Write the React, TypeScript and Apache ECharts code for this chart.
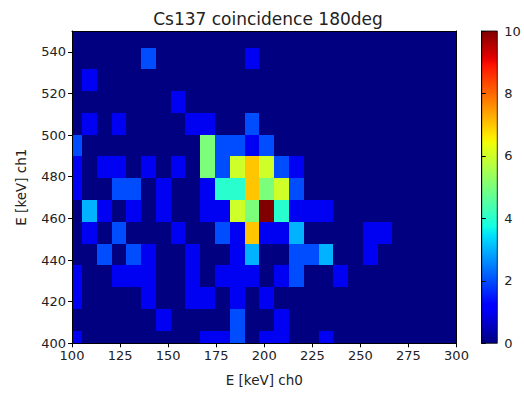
import React, { useEffect, useRef } from "react";
import * as echarts from "echarts";

// Histogram bins (keV)
const xBinStart = 97.5;
const xBinWidth = 7.69;
const yBinStart = 395.6;
const yBinWidth = 10.46;

// Counts per bin, rows listed from top (highest ch1) to bottom (lowest ch1)
const countsTopToBottom: number[][] = [
  [0,0,0,0,0,0,0,0,0,0,0,0,0,0,0,0,0,0,0,0,0,0,0,0,0,0,0],
  [0,0,0,0,0,2,0,0,0,0,0,0,1,0,0,0,0,0,0,0,0,0,0,0,0,0,0],
  [0,1,0,0,0,0,0,0,0,0,0,0,0,0,0,0,0,0,0,0,0,0,0,0,0,0,0],
  [0,0,0,0,0,0,0,1,0,0,0,0,0,0,0,0,0,0,0,0,0,0,0,0,0,0,0],
  [0,1,0,1,0,0,0,0,1,1,0,0,2,0,0,0,0,0,0,0,0,0,0,0,0,0,0],
  [2,0,0,0,0,0,0,0,0,5,2,2,1,2,0,0,0,0,0,0,0,0,0,0,0,0,0],
  [1,0,1,1,0,1,0,1,0,5,2,6,7,6,2,1,0,0,0,0,0,0,0,0,0,0,0],
  [1,0,0,2,2,0,1,0,0,1,4,4,7,5,6,2,0,0,0,0,0,0,0,0,0,0,0],
  [0,3,1,0,1,0,1,0,0,1,1,6,5,10,4,1,1,1,0,0,0,0,0,0,0,0,0],
  [0,1,0,2,0,0,0,1,0,0,2,1,7,1,1,3,0,0,0,0,1,1,0,0,0,0,0],
  [0,0,2,0,2,1,0,0,1,0,0,1,3,0,0,2,2,3,0,0,1,0,0,0,0,0,0],
  [1,0,0,1,1,1,0,0,1,0,1,1,1,0,1,2,0,0,1,0,0,0,0,0,0,0,0],
  [1,0,0,0,0,1,0,0,1,1,0,1,0,1,0,0,0,0,0,0,0,0,0,0,0,0,0],
  [0,0,0,0,0,0,1,0,0,0,0,2,0,0,1,0,0,0,0,0,0,0,0,0,0,0,0],
  [1,0,0,0,0,0,0,0,0,1,1,2,0,1,1,0,0,1,0,0,0,0,0,0,0,0,0],
];

const xTicks = [100, 125, 150, 175, 200, 225, 250, 275, 300];
const yTicks = [400, 420, 440, 460, 480, 500, 520, 540];
const cbarTicks = [0, 2, 4, 6, 8, 10];

const titleText = "Cs137 coincidence 180deg";
const xName = "E [keV] ch0";
const yName = "E [keV] ch1";

function seg(t: number, pts: number[][]) {
  for (let i = 1; i < pts.length; i++) {
    if (t <= pts[i][0]) {
      const [t0, v0] = pts[i - 1];
      const [t1, v1] = pts[i];
      return v0 + ((t - t0) / (t1 - t0)) * (v1 - v0);
    }
  }
  return pts[pts.length - 1][1];
}
function jet(t: number) {
  const r = seg(t, [[0, 0], [0.35, 0], [0.66, 1], [0.89, 1], [1, 0.5]]);
  const g = seg(t, [[0, 0], [0.125, 0], [0.375, 1], [0.64, 1], [0.91, 0], [1, 0]]);
  const b = seg(t, [[0, 0.5], [0.11, 1], [0.34, 1], [0.65, 0], [1, 0]]);
  const h = (v: number) => Math.round(v * 255);
  return `rgb(${h(r)},${h(g)},${h(b)})`;
}

const FONT = "DejaVu Sans";
const TXT = "#222";

export default function App() {
  const ref = useRef<HTMLDivElement>(null);
  useEffect(() => {
    if (!ref.current) return;
    const chart = echarts.init(ref.current, undefined, { renderer: "svg" });
    const nRows = countsTopToBottom.length;
    const cells: number[][] = [];
    countsTopToBottom.forEach((row, ri) => {
      const yi = nRows - 1 - ri;
      row.forEach((c, xi) => {
        const x0 = xBinStart + xi * xBinWidth;
        const y0 = yBinStart + yi * yBinWidth;
        cells.push([x0, x0 + xBinWidth, y0, y0 + yBinWidth, c]);
      });
    });
    const N = 64;
    const jetColors: string[] = [];
    const stops: { offset: number; color: string }[] = [];
    for (let i = 0; i <= N; i++) {
      const t = i / N;
      jetColors.push(jet(t));
      stops.push({ offset: t, color: jet(t) });
    }
    const tickLabel = { fontFamily: FONT, fontSize: 13, color: TXT };
    const frameLine = { show: true, lineStyle: { color: "#000", width: 1 } };
    chart.setOption({
      animation: false,
      title: {
        text: titleText,
        left: 263,
        top: 5,
        textAlign: "center",
        textStyle: { fontFamily: FONT, fontSize: 17, fontWeight: "normal", color: TXT },
      },
      grid: [
        { left: 72, top: 31, width: 384.5, height: 312.3 },
        { left: 481.7, top: 31, width: 15.6, height: 312.3 },
      ],
      visualMap: {
        type: "continuous",
        show: false,
        min: 0,
        max: 10,
        dimension: 4,
        seriesIndex: 0,
        inRange: { color: jetColors },
      },
      xAxis: [
        {
          type: "value",
          gridIndex: 0,
          min: 100,
          max: 300,
          interval: 25,
          position: "bottom",
          z: 5,
          axisLine: frameLine,
          axisTick: { show: true, inside: false, length: 4, lineStyle: { color: "#000" } },
          axisLabel: { ...tickLabel, margin: 6, customValues: xTicks },
          splitLine: { show: false },
          name: xName,
          nameLocation: "middle",
          nameGap: 30,
          nameTextStyle: { fontFamily: FONT, fontSize: 13.5, color: TXT },
        },
        {
          type: "value",
          gridIndex: 1,
          min: 0,
          max: 1,
          show: false,
        },
        {
          type: "value",
          gridIndex: 0,
          min: 100,
          max: 300,
          position: "top",
          z: 5,
          axisLine: frameLine,
          axisTick: { show: false },
          axisLabel: { show: false },
          splitLine: { show: false },
        },
      ],
      yAxis: [
        {
          type: "value",
          gridIndex: 0,
          min: 400,
          max: 550,
          interval: 20,
          position: "left",
          z: 5,
          axisLine: frameLine,
          axisTick: { show: true, inside: false, length: 4, lineStyle: { color: "#000" }, customValues: yTicks },
          axisLabel: { ...tickLabel, margin: 6, customValues: yTicks },
          splitLine: { show: false },
          name: yName,
          nameLocation: "middle",
          nameGap: 44,
          nameRotate: 90,
          nameTextStyle: { fontFamily: FONT, fontSize: 13.5, color: TXT },
        },
        {
          type: "value",
          gridIndex: 1,
          min: 0,
          max: 10,
          interval: 2,
          position: "right",
          z: 5,
          axisLine: frameLine,
          axisTick: { show: true, inside: false, length: 4, lineStyle: { color: "#000" }, customValues: cbarTicks },
          axisLabel: { ...tickLabel, margin: 7, customValues: cbarTicks },
          splitLine: { show: false },
        },
        {
          type: "value",
          gridIndex: 0,
          min: 400,
          max: 550,
          position: "right",
          z: 5,
          axisLine: frameLine,
          axisTick: { show: false },
          axisLabel: { show: false },
          splitLine: { show: false },
        },
      ],
      series: [
        {
          type: "custom",
          xAxisIndex: 0,
          yAxisIndex: 0,
          clip: true,
          encode: { x: [0, 1], y: [2, 3] },
          data: cells,
          renderItem: (params: any, api: any) => {
            const p0 = api.coord([api.value(0), api.value(3)]);
            const p1 = api.coord([api.value(1), api.value(2)]);
            const x = Math.round(p0[0]);
            const y = Math.round(p0[1]);
            const color = api.visual("color");
            return {
              type: "rect",
              shape: { x, y, width: Math.round(p1[0]) - x, height: Math.round(p1[1]) - y },
              style: { fill: color },
            };
          },
        },
        {
          type: "custom",
          xAxisIndex: 1,
          yAxisIndex: 1,
          clip: false,
          z: 1,
          encode: { x: [0, 1], y: [2, 3] },
          data: [[0, 1, 0, 10]],
          renderItem: (params: any, api: any) => {
            const p0 = api.coord([api.value(0), api.value(3)]);
            const p1 = api.coord([api.value(1), api.value(2)]);
            return {
              type: "rect",
              shape: { x: p0[0], y: p0[1], width: p1[0] - p0[0], height: p1[1] - p0[1] },
              style: {
                fill: new echarts.graphic.LinearGradient(0, 1, 0, 0, stops),
                stroke: "#000",
                lineWidth: 0.8,
              },
            };
          },
        },
      ],
    });
    return () => chart.dispose();
  }, []);
  return (
    <div
      ref={ref}
      style={{ position: "fixed", left: 0, top: 0, width: 524, height: 394, background: "#fff" }}
    />
  );
}
